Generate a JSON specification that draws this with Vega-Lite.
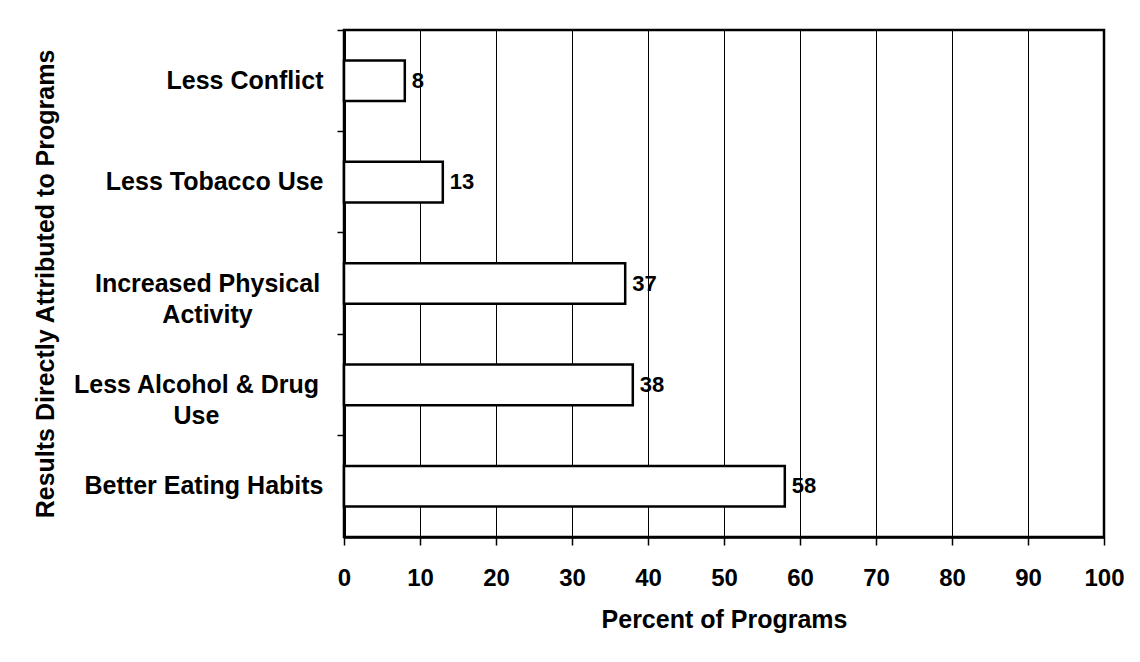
{
  "$schema": "https://vega.github.io/schema/vega-lite/v6.json",
  "width": 760,
  "height": 507,
  "autosize": {"type": "none"},
  "padding": {"left": 344, "top": 30, "right": 36, "bottom": 125},
  "background": "white",
  "config": {
    "font": "Liberation Sans",
    "view": {"stroke": "black", "strokeWidth": 2.5}
  },
  "data": {
    "values": [
      {"result": "Less Conflict", "percent": 8},
      {"result": "Less Tobacco Use", "percent": 13},
      {"result": "Increased Physical Activity", "percent": 37},
      {"result": "Less Alcohol & Drug Use", "percent": 38},
      {"result": "Better Eating Habits", "percent": 58}
    ]
  },
  "encoding": {
    "y": {
      "field": "result",
      "type": "nominal",
      "sort": null,
      "scale": {"paddingInner": 0, "paddingOuter": 0},
      "axis": {
        "title": "Results Directly Attributed to Programs",
        "bandPosition": 0,
        "grid": false,
        "domain": true,
        "domainColor": "black",
        "domainWidth": 3,
        "ticks": true,
        "tickSize": 7,
        "tickColor": "black",
        "tickWidth": 1.5,
        "labelFont": "Liberation Sans",
        "labelFontSize": 25,
        "labelFontWeight": "bold",
        "labelColor": "black",
        "labelLimit": 0,
        "labelLineHeight": 31,
        "labelBaseline": "middle",
        "labelExpr": "datum.value == 'Increased Physical Activity' ? ['Increased Physical', 'Activity'] : datum.value == 'Less Alcohol & Drug Use' ? ['Less Alcohol & Drug', 'Use'] : datum.value",
        "labelAlign": {
          "condition": {"test": "datum.value == 'Increased Physical Activity' || datum.value == 'Less Alcohol & Drug Use'", "value": "center"},
          "value": "right"
        },
        "labelPadding": {
          "condition": [
            {"test": "datum.value == 'Increased Physical Activity'", "value": 130},
            {"test": "datum.value == 'Less Alcohol & Drug Use'", "value": 141}
          ],
          "value": 14
        },
        "titleFont": "Liberation Sans",
        "titleFontSize": 25,
        "titleFontWeight": "bold",
        "titleColor": "black",
        "titleX": -291,
        "titleY": 253.5,
        "titleBaseline": "alphabetic",
        "titleAlign": "center",
        "titleAngle": -90
      }
    },
    "x": {
      "field": "percent",
      "type": "quantitative",
      "scale": {"domain": [0, 100], "nice": false},
      "axis": {
        "title": "Percent of Programs",
        "values": [0, 10, 20, 30, 40, 50, 60, 70, 80, 90, 100],
        "grid": true,
        "gridColor": "black",
        "gridOpacity": 1,
        "gridWidth": 1,
        "domainColor": "black",
        "domainWidth": 2.5,
        "tickSize": 8,
        "tickColor": "black",
        "tickWidth": 1.5,
        "labelFont": "Liberation Sans",
        "labelFontSize": 24,
        "labelFontWeight": "bold",
        "labelColor": "black",
        "labelPadding": 21,
        "labelFlush": false,
        "titleFont": "Liberation Sans",
        "titleFontSize": 25,
        "titleFontWeight": "bold",
        "titleColor": "black",
        "titlePadding": 17
      }
    }
  },
  "layer": [
    {
      "mark": {"type": "bar", "height": {"band": 0.4}, "fill": "white", "stroke": "black", "strokeWidth": 2.5}
    },
    {
      "mark": {"type": "text", "align": "left", "baseline": "middle", "dx": 7, "fontSize": 22, "fontWeight": "bold", "color": "black", "font": "Liberation Sans"},
      "encoding": {"text": {"field": "percent", "type": "quantitative"}}
    }
  ]
}
